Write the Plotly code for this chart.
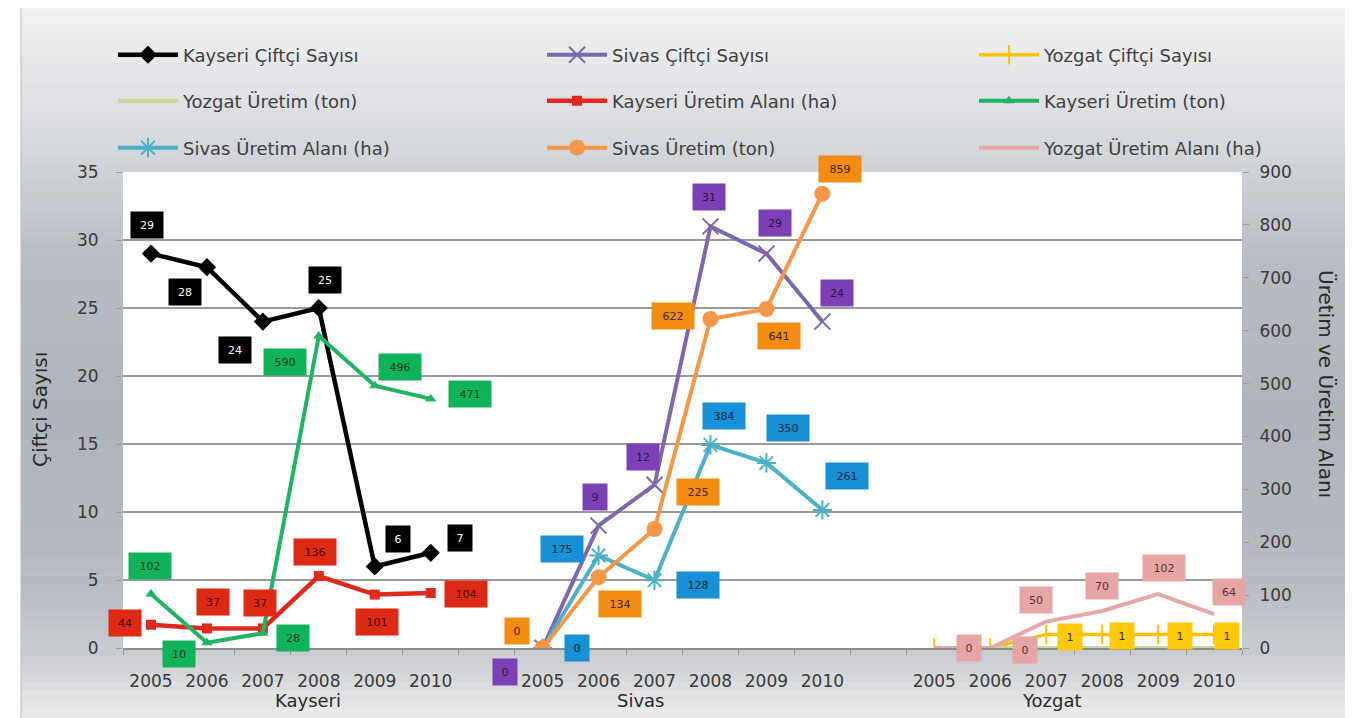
import plotly.graph_objects as go

# ---------------- data ----------------
years = ["2005", "2006", "2007", "2008", "2009", "2010"]
regions = ["Kayseri", "Sivas", "Yozgat"]

kayseri_ciftci = [29, 28, 24, 25, 6, 7]
sivas_ciftci = [0, 9, 12, 31, 29, 24]
yozgat_ciftci = [0, 0, 1, 1, 1, 1]

yozgat_uretim = [0, 0, 0, 0, 0, 0]
kayseri_alan = [44, 37, 37, 136, 101, 104]
kayseri_uretim = [102, 10, 28, 590, 496, 471]

sivas_alan = [0, 175, 128, 384, 350, 261]
sivas_uretim = [0, 134, 225, 622, 641, 859]
yozgat_alan = [0, 0, 50, 70, 102, 64]

# category slots: each region takes 6 slots followed by one empty slot
group_start = {"Kayseri": 0, "Sivas": 7, "Yozgat": 14}
def xs(region):
    return [group_start[region] + i for i in range(len(years))]

FONT = "DejaVu Sans"
TXT = "#3a3a3a"

# --------------- layout geometry ---------------
# the page body has an 8px margin, so the figure is drawn 8px smaller
OFF = 8
W, H = 1369 - OFF, 718 - OFF
# plot area in screen pixels
PL, PR, PT, PB = 123, 1242, 172, 648

def px_x(p):
    return (p - PL) / (PR - PL)

def px_y(p):
    return (PB - p) / (PB - PT)

fig = go.Figure()

series = [
    dict(name="Kayseri Çiftçi Sayısı", region="Kayseri", vals=kayseri_ciftci, axis="y",
         color="#000000", lw=4.5, marker=dict(symbol="diamond", size=14), legend="legend",
         box="#000000", tcol="#ffffff",
         off=[(-4, -29), (-22, 25), (-28, 28), (6, -28), (23, -27), (29, -15)], show=[1]*6),
    dict(name="Sivas Çiftçi Sayısı", region="Sivas", vals=sivas_ciftci, axis="y",
         color="#7f66ad", lw=4, marker=dict(symbol="x-thin-open", size=16, line=dict(width=2, color="#7f66ad")),
         legend="legend2", box="#7d3fb5", tcol="#2a1840",
         off=[(-38, 24), (-4, -29), (-12, -28), (-1, -29), (9, -31), (15, -29)], show=[1]*6),
    dict(name="Yozgat Çiftçi Sayısı", region="Yozgat", vals=yozgat_ciftci, axis="y",
         color="#ffc000", lw=3.5, marker=dict(symbol="line-ns", size=14, line=dict(width=2, color="#ffc000")),
         legend="legend3", box="#ffc80a", tcol="#3d2f00",
         off=[(0, 0), (0, 0), (24, 3), (20, 2), (22, 2), (13, 2)], show=[0, 0, 1, 1, 1, 1]),
    dict(name="Yozgat Üretim (ton)", region="Yozgat", vals=yozgat_uretim, axis="y2",
         color="#c4d89b", lw=4, marker=None, legend="legend4", box=None, tcol=None, off=None, show=[0]*6),
    dict(name="Kayseri Üretim Alanı (ha)", region="Kayseri", vals=kayseri_alan, axis="y2",
         color="#e0281c", lw=4.5, marker=dict(symbol="square", size=10), legend="legend5",
         box="#dd2a14", tcol="#4a0800",
         off=[(-26, -2), (6, -26), (-3, -25), (-4, -24), (2, 27), (35, 1)], show=[1]*6),
    dict(name="Kayseri Üretim (ton)", region="Kayseri", vals=kayseri_uretim, axis="y2",
         color="#1fb462", lw=4, marker=dict(symbol="triangle-up", size=10), legend="legend6",
         box="#10b35a", tcol="#0d3a20",
         off=[(-1, -28), (-28, 11), (30, 5), (-34, 26), (25, -19), (39, -5)], show=[1]*6),
    dict(name="Sivas Üretim Alanı (ha)", region="Sivas", vals=sivas_alan, axis="y2",
         color="#4cb0c6", lw=4, marker=dict(symbol="asterisk-open", size=16, line=dict(width=2, color="#4cb0c6")),
         legend="legend7", box="#1790d6", tcol="#0b2840",
         off=[(34, 0), (-37, -6), (43, 5), (14, -29), (22, -35), (25, -34)], show=[1]*6),
    dict(name="Sivas Üretim (ton)", region="Sivas", vals=sivas_uretim, axis="y2",
         color="#f79646", lw=4, marker=dict(symbol="circle", size=16), legend="legend8",
         box="#f28c12", tcol="#3f2400",
         off=[(-26, -17), (21, 27), (43, -37), (-37, -3), (13, 27), (18, -25)], show=[1]*6),
    dict(name="Yozgat Üretim Alanı (ha)", region="Yozgat", vals=yozgat_alan, axis="y2",
         color="#e6a7a7", lw=4, marker=None, legend="legend9",
         box="#e6a6a6", tcol="#5a3030",
         off=[(35, 0), (35, 2), (-10, -22), (0, -25), (6, -26), (15, -22)], show=[1]*6),
]

annotations = []
for s in series:
    mode = "lines+markers" if s["marker"] else "lines"
    kw = dict(marker=dict(color=s["color"], **s["marker"])) if s["marker"] else {}
    fig.add_trace(go.Scatter(
        x=xs(s["region"]), y=s["vals"], name=s["name"], mode=mode,
        line=dict(color=s["color"], width=s["lw"]), yaxis=s["axis"],
        legend=s["legend"], **kw))
    if s["box"]:
        for xv, v, (dx, dy), sh in zip(xs(s["region"]), s["vals"], s["off"], s["show"]):
            if not sh:
                continue
            t = str(v)
            wbox = {1: 24, 2: 32, 3: 42}[len(t)]
            annotations.append(dict(
                x=xv, y=v, xref="x", yref=s["axis"], text=t, showarrow=False,
                xshift=dx, yshift=-dy, bgcolor=s["box"], width=wbox, height=26,
                borderpad=0, font=dict(family=FONT, size=11, color=s["tcol"])))

# axis titles & region labels
annotations.append(dict(x=px_x(40), y=px_y(410), xref="paper", yref="paper", text="Çiftçi Sayısı",
                        xanchor="center", yanchor="middle", textangle=-90, showarrow=False,
                        font=dict(family=FONT, size=20, color="#2a2a2a")))
annotations.append(dict(x=px_x(1326), y=px_y(384), xref="paper", yref="paper", text="Üretim ve Üretim Alanı",
                        xanchor="center", yanchor="middle", textangle=90, showarrow=False,
                        font=dict(family=FONT, size=20, color="#2a2a2a")))
region_centre = {"Kayseri": 2.81, "Sivas": 8.76, "Yozgat": 16.1}
for r in regions:
    annotations.append(dict(x=region_centre[r], y=px_y(700), xref="x", yref="paper", text=r,
                            xanchor="center", yanchor="middle", showarrow=False,
                            font=dict(family=FONT, size=18, color="#2a2a2a")))

# background gradient (decoration)
stops = [(0, (244, 244, 244)), (60, (232, 233, 235)), (160, (210, 213, 218)), (260, (184, 188, 195)),
         (420, (176, 181, 188)), (580, (184, 188, 194)), (650, (200, 203, 208)), (718, (236, 236, 236))]
shapes = []
N = 80
top = 4
for k in range(N):
    y0 = top + (718 - top) * k / N
    y1 = top + (718 - top) * (k + 1) / N
    ym = (y0 + y1) / 2
    for (a, ca), (b, cb) in zip(stops[:-1], stops[1:]):
        if a <= ym <= b:
            f = (ym - a) / (b - a)
            c = tuple(int(ca[i] + (cb[i] - ca[i]) * f) for i in range(3))
            break
    shapes.append(dict(type="rect", xref="paper", yref="paper", x0=px_x(21), x1=px_x(1345),
                       y0=px_y(y1 + 0.5), y1=px_y(y0), fillcolor="rgb(%d,%d,%d)" % c,
                       line=dict(width=0), layer="below"))
shapes.append(dict(type="line", xref="paper", yref="paper", x0=px_x(21), x1=px_x(21),
                   y0=px_y(718), y1=px_y(top), line=dict(color="#b8b8b8", width=1), layer="below"))
shapes.append(dict(type="rect", xref="paper", yref="paper", x0=0, x1=1, y0=0, y1=1,
                   fillcolor="white", line=dict(width=0), layer="below"))

legend_common = dict(orientation="h", xanchor="left", yanchor="middle", bgcolor="rgba(0,0,0,0)",
                     font=dict(family=FONT, size=18, color="#404040"), itemwidth=60,
                     itemclick=False, itemdoubleclick=False)
col_x = [113, 542, 974]
row_y = [55, 101, 148]
legends = {}
for k in range(9):
    key = "legend" if k == 0 else "legend%d" % (k + 1)
    legends[key] = dict(x=px_x(col_x[k % 3]), y=px_y(row_y[k // 3]), **legend_common)

fig.update_layout(
    width=W, height=H, autosize=False,
    margin=dict(l=PL - OFF, r=W - (PR - OFF), t=PT - OFF, b=H - (PB - OFF), pad=0, autoexpand=False),
    paper_bgcolor="white", plot_bgcolor="white",
    showlegend=True,
    **legends,
    xaxis=dict(range=[-0.5, 19.5], tickmode="array",
               tickvals=[group_start[r] + i for r in regions for i in range(len(years))],
               ticktext=[y for r in regions for y in years],
               showgrid=False, zeroline=False, showline=True, linecolor="#8c8c8c", linewidth=1.5,
               ticks="", tickfont=dict(family=FONT, size=17, color=TXT), ticklabelstandoff=17,
               minor=dict(tickmode="linear", tick0=-0.5, dtick=1, ticks="outside", ticklen=5,
                          tickcolor="#9a9a9a", showgrid=False)),
    yaxis=dict(range=[0, 35], dtick=5, showgrid=True, gridcolor="#9a9a9a", gridwidth=1.5,
               zeroline=False, ticks="outside", ticklen=6, tickcolor="#9a9a9a",
               tickfont=dict(family=FONT, size=17, color=TXT), ticklabelstandoff=14),
    yaxis2=dict(range=[0, 900], dtick=100, overlaying="y", side="right", showgrid=False,
                zeroline=False, ticks="outside", ticklen=6, tickcolor="#9a9a9a",
                tickfont=dict(family=FONT, size=17, color=TXT), ticklabelstandoff=7),
    annotations=annotations, shapes=shapes,
)

fig.write_html("out.html")
